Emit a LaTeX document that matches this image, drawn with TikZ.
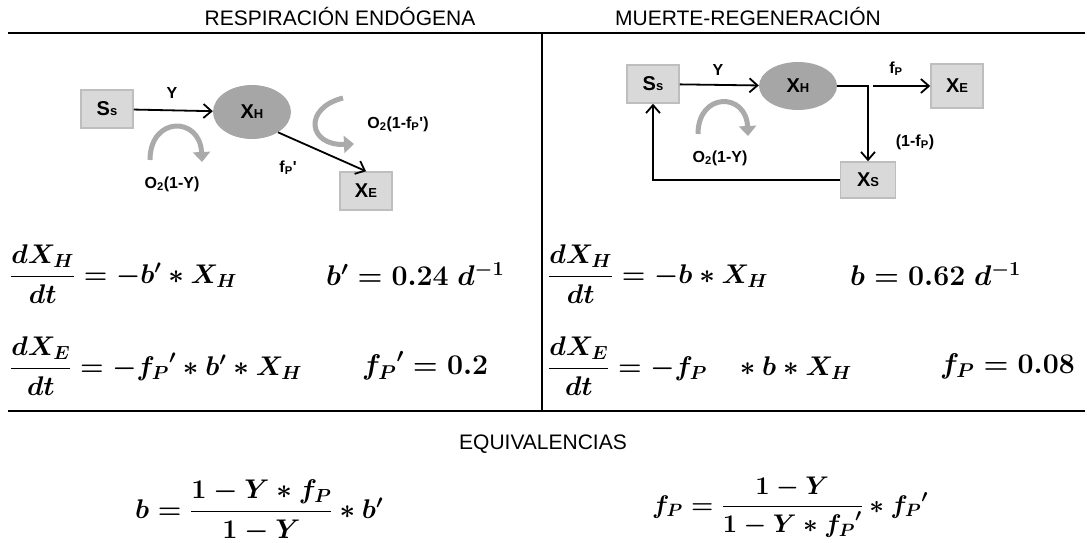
\RequirePackage{fix-cm}
\documentclass[tikz,border=0pt]{standalone}
\usepackage{amsmath}
\usepackage{fontspec}
\newfontfamily\arial{Liberation Sans}
\usepackage{tikz}
\usetikzlibrary{arrows.meta,shapes.geometric}

\definecolor{grisCaja}{RGB}{217,217,217}
\definecolor{bordeCaja}{RGB}{190,190,190}
\definecolor{grisBola}{RGB}{166,166,166}
\definecolor{grisGiro}{RGB}{170,170,170}

% letra pequena para los subindices de las cajas
\newcommand{\chico}[1]{{\fontsize{13}{13}\selectfont #1}}

\tikzset{
  caja/.style={draw=bordeCaja, fill=grisCaja, line width=1.5pt, minimum width=52pt, minimum height=38pt, font=\arial\bfseries\fontsize{20}{20}\selectfont},
  bola/.style={ellipse, fill=grisBola, minimum width=78pt, minimum height=54pt, inner sep=0pt, font=\arial\bfseries\fontsize{20}{20}\selectfont},
  flecha/.style={line width=1.8pt, -{Straight Barb[length=8pt,width=14pt]}},
  giro/.style={line width=5pt, draw=grisGiro, -{Triangle[length=10pt,width=17pt]}},
  titulo/.style={font=\arial\fontsize{21}{21}\selectfont},
  etiqueta/.style={font=\arial\bfseries\fontsize{16}{16}\selectfont},
  ecuacion/.style={anchor=west, inner sep=0pt, font=\fontsize{27}{31}\selectfont\boldmath},
  valor/.style={ecuacion, font=\fontsize{28.5}{32}\selectfont\boldmath},
  raya/.style={line width=2.5pt}
}

\begin{document}
\begin{tikzpicture}[x=1pt,y=-1pt]
    \useasboundingbox (0,0) rectangle (1087,543);

    % Titulos y rayas de la tabla
    \node[titulo] (tituloIzq) at (340,16) {RESPIRACIÓN ENDÓGENA};
    \node[titulo] (tituloDer) at (748,16) {MUERTE-REGENERACIÓN};
    \coordinate (arribaIzq) at (8,33);
    \coordinate (arribaDer) at (1085,33);
    \coordinate (abajoIzq) at (8,411);
    \coordinate (abajoDer) at (1085,411);
    \coordinate (centroArriba) at (542,33);
    \coordinate (centroAbajo) at (542,411);
    \draw[raya] (arribaIzq) -- (arribaDer);
    \draw[raya] (abajoIzq) -- (abajoDer);
    \draw[line width=1.5pt] (centroArriba) -- (centroAbajo);

    % Diagrama respiracion endogena
    \node[caja] (ssIzq) at (107,109) {S\chico{s}};
    \node[bola] (xhIzq) at (252,112) {X\chico{H}};
    \node[caja] (xeIzq) at (366,191) {X\chico{E}};
    \draw[flecha] (ssIzq) -- (xhIzq);
    \draw[flecha] (xhIzq.-38) -- (xeIzq.north);
    \node[etiqueta] (yIzq) at (172,93) {Y};
    \node[etiqueta] (fpIzq) at (288,168) {f\textsubscript{P}'};
    \coordinate (giroA1) at (150,160);
    \coordinate (giroA2) at (202,162);
    \draw[giro] (giroA1) .. controls (150,116) and (200,116) .. (giroA2);
    \node[etiqueta] (oyIzq) at (172,184) {O\textsubscript{2}(1-Y)};
    \coordinate (giroB1) at (343,98);
    \coordinate (giroB2) at (354,144);
    \draw[giro] (giroB1) .. controls (303,108) and (308,146) .. (giroB2);
    \node[etiqueta] (ofIzq) at (398,124) {O\textsubscript{2}(1-f\textsubscript{P}')};

    % Diagrama muerte-regeneracion
    \node[caja] (ssDer) at (653,84) {S\chico{s}};
    \node[bola, minimum height=48pt] (xhDer) at (798,86) {X\chico{H}};
    \node[caja, minimum height=44pt] (xeDer) at (957,86) {X\chico{E}};
    \node[caja, minimum width=55pt, minimum height=36pt] (xsDer) at (868,180) {X\chico{S}};
    \draw[flecha] (ssDer) -- (xhDer);
    \draw[flecha] (xhDer.east) -| (xsDer.north);
    \coordinate (rama) at (873,86);
    \draw[flecha] (rama) -- (xeDer.west);
    \draw[flecha] (xsDer.west) -| (ssDer.south);
    \node[etiqueta] (yDer) at (718,70) {Y};
    \node[etiqueta] (fpDer) at (896,69) {f\textsubscript{P}};
    \node[etiqueta] (unoDer) at (915,142) {(1-f\textsubscript{P})};
    \coordinate (giroC1) at (698,134);
    \coordinate (giroC2) at (748,136);
    \draw[giro] (giroC1) .. controls (698,92) and (746,92) .. (giroC2);
    \node[etiqueta] (oyDer) at (720,158) {O\textsubscript{2}(1-Y)};

    % Ecuaciones
    \node[ecuacion] (ecA) at (10,274) {$\dfrac{dX_H}{dt} = -b' \ast X_H$};
    \node[valor] (ecB) at (326,274) {$b' = 0.24\ d^{-1}$};
    \node[ecuacion] (ecC) at (10,366) {$\dfrac{dX_E}{dt} = -{f_P}' \ast b' \ast X_H$};
    \node[valor] (ecD) at (362,366) {${f_P}' = 0.2$};
    \node[ecuacion] (ecE) at (548,274) {$\dfrac{dX_H}{dt} = -b \ast X_H$};
    \node[valor] (ecF) at (850,274) {$b = 0.62\ d^{-1}$};
    \node[ecuacion] (ecG) at (548,366) {$\dfrac{dX_E}{dt} = -f_P\;\;\; \ast b \ast X_H$};
    \node[valor] (ecH) at (940,366) {$f_P = 0.08$};

    % Equivalencias
    \node[titulo] (equiv) at (543,444) {EQUIVALENCIAS};
    \node[ecuacion] (ecI) at (135,511) {$b = \dfrac{1 - Y \ast f_P}{1 - Y} \ast b'$};
    \node[ecuacion, font=\fontsize{25.5}{29}\selectfont\boldmath] (ecJ) at (652,507) {$f_P = \dfrac{1 - Y}{1 - Y \ast {f_P}'} \ast {f_P}'$};
  \end{tikzpicture}
\end{document}
